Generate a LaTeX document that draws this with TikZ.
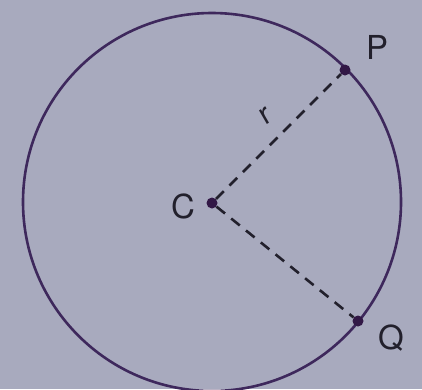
\documentclass[tikz,border=0pt]{standalone}
\usepackage{fontspec}
\setmainfont{TeX Gyre Heros}
\definecolor{bg}{RGB}{168,170,190}
\definecolor{circ}{RGB}{62,40,92}
\definecolor{ink}{RGB}{34,32,44}
\definecolor{dotc}{RGB}{50,24,70}
\tikzset{
  radline/.style={draw=ink, line width=2.6pt, dash pattern=on 11pt off 8pt},
  ptdot/.style={circle, fill=dotc, inner sep=0pt, minimum size=11pt},
  lbl/.style={text=ink, font=\fontsize{33}{33}\selectfont, inner sep=0pt}
}
\begin{document}
\begin{tikzpicture}[x=1pt,y=-1pt]
\fill[bg] (0,0) rectangle (422,389);
\useasboundingbox (0,0) rectangle (422,389);
\coordinate (O) at (212,202);
\draw[circ, line width=2.6pt] (O) circle[radius=189];
\node[ptdot] (C) at (212,203) {};
\node[ptdot] (P) at (345,70) {};
\node[ptdot] (Q) at (358,321) {};
\draw[radline] (C) -- (P);
\draw[radline] (C) -- (Q);
\node[lbl] (Cl) at (183,206) {C};
\node[lbl] (Pl) at (377,47) {P};
\node[lbl] (Ql) at (391,338) {Q};
\node[lbl, font=\fontsize{30}{30}\selectfont, rotate=30] (rl) at (266,116) {r};
\end{tikzpicture}
\end{document}
